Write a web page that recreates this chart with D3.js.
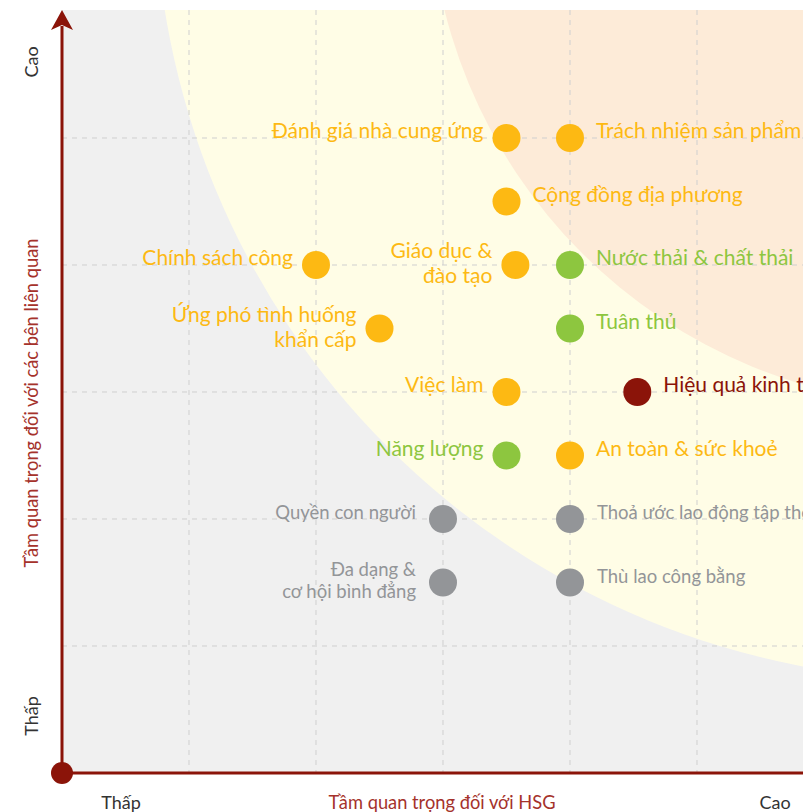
<!DOCTYPE html>
<html>
<head>
<meta charset="utf-8">
<script src="https://cdn.jsdelivr.net/npm/d3@7"></script>
<style>
  body { margin: 0; background: #fff; }
  svg { display: block; font-family: "Lato", "Noto Sans", sans-serif; }
</style>
</head>
<body>
<div id="chart"></div>
<script>
// topics on the materiality matrix
const topics = [
    "Đánh giá nhà cung ứng", "Trách nhiệm sản phẩm", "Cộng đồng địa phương",
    "Chính sách công", "Giáo dục &\nđào tạo", "Nước thải & chất thải",
    "Ứng phó tình huống\nkhẩn cấp", "Tuân thủ", "Việc làm", "Hiệu quả kinh tế",
    "Năng lượng", "An toàn & sức khoẻ", "Quyền con người",
    "Thoả ước lao động tập thể", "Đa dạng &\ncơ hội bình đẳng", "Thù lao công bằng"
];
// importance to HSG (x) and to stakeholders (y)
const hsgValues = [3.5, 4, 3.5, 2, 3.57, 4, 2.5, 4, 3.5, 4.53, 3.5, 4, 3, 4, 3, 4];
const stakeholderValues = [5, 5, 4.5, 4, 4, 4, 3.5, 3.5, 3, 3, 2.5, 2.5, 2, 2, 1.5, 1.5];
const groups = ["social", "social", "social", "social", "social", "env",
    "social", "env", "social", "econ", "env", "social", "minor",
    "minor", "minor", "minor"];
const labelSide = ["left", "right", "right", "left", "left", "right",
    "left", "right", "left", "right", "left", "right", "left",
    "right", "left", "right"];
const gridTicks = [1, 2, 3, 4, 5];

const colors = { social: "#fdb913", env: "#8dc63f", econ: "#8b1409", minor: "#939598" };
const axisRed = "#8b1409";

function initMatrix() {
    const width = 803, height = 812;
    const x0 = 62, y0 = 773, top = 10;

    const svg = d3.select("#chart")
        .append("svg")
        .attr("width", width)
        .attr("height", height);

    const x = d3.scaleLinear().domain([0, 6]).range([x0, x0 + 6 * 127]);
    const y = d3.scaleLinear().domain([0, 6]).range([y0, y0 - 6 * 127]);

    // plot area clip
    svg.append("clipPath").attr("id", "plotClip")
        .append("rect")
        .attr("x", x0).attr("y", top)
        .attr("width", width - x0).attr("height", y0 - top);

    const bg = svg.append("g").attr("clip-path", "url(#plotClip)");
    bg.append("rect")
        .attr("x", x0).attr("y", top)
        .attr("width", width - x0).attr("height", y0 - top)
        .attr("fill", "#f0f0f0");

    // priority zones, centred beyond the top right corner
    const cx = x(7), cy = y(7);
    bg.append("circle")
        .attr("cx", cx).attr("cy", cy)
        .attr("r", x(6.27) - x(0))
        .attr("fill", "#fffde6");
    bg.append("circle")
        .attr("cx", cx).attr("cy", cy)
        .attr("r", x(4.11) - x(0))
        .attr("fill", "#fdebd8");

    // dashed grid
    bg.selectAll(".vgrid")
        .data(gridTicks)
        .enter()
        .append("line")
        .attr("x1", d => x(d)).attr("x2", d => x(d))
        .attr("y1", top).attr("y2", y0)
        .attr("stroke", "#cfcfcf")
        .attr("stroke-dasharray", "5,5");
    bg.selectAll(".hgrid")
        .data(gridTicks)
        .enter()
        .append("line")
        .attr("y1", d => y(d)).attr("y2", d => y(d))
        .attr("x1", x0).attr("x2", width)
        .attr("stroke", "#cfcfcf")
        .attr("stroke-dasharray", "5,5");

    // axes
    svg.append("line")
        .attr("x1", x0).attr("y1", y0)
        .attr("x2", width).attr("y2", y0)
        .attr("stroke", axisRed).attr("stroke-width", 3);
    svg.append("line")
        .attr("x1", x0).attr("y1", y0)
        .attr("x2", x0).attr("y2", top + 16)
        .attr("stroke", axisRed).attr("stroke-width", 3);
    svg.append("path")
        .attr("d", `M${x0},${top} L${x0 + 11},${top + 20} L${x0},${top + 15} L${x0 - 11},${top + 20} Z`)
        .attr("fill", axisRed);
    svg.append("circle")
        .attr("cx", x0).attr("cy", y0).attr("r", 11)
        .attr("fill", axisRed);

    // axis texts
    svg.append("text")
        .attr("transform", `translate(38,62) rotate(-90)`)
        .attr("text-anchor", "middle")
        .attr("fill", "#333")
        .style("font-size", "18px")
        .text("Cao");
    svg.append("text")
        .attr("transform", `translate(38,716) rotate(-90)`)
        .attr("text-anchor", "middle")
        .attr("fill", "#333")
        .style("font-size", "18px")
        .text("Thấp");
    svg.append("text")
        .attr("transform", `translate(38,403) rotate(-90)`)
        .attr("text-anchor", "middle")
        .attr("fill", "#a5322b")
        .style("font-size", "18.3px")
        .text("Tầm quan trọng đối với các bên liên quan");
    svg.append("text")
        .attr("x", 121).attr("y", 809)
        .attr("text-anchor", "middle")
        .attr("fill", "#333")
        .style("font-size", "18px")
        .text("Thấp");
    svg.append("text")
        .attr("x", 442).attr("y", 809)
        .attr("text-anchor", "middle")
        .attr("fill", "#a5322b")
        .style("font-size", "18.3px")
        .text("Tầm quan trọng đối với HSG");
    svg.append("text")
        .attr("x", 775).attr("y", 809)
        .attr("text-anchor", "middle")
        .attr("fill", "#333")
        .style("font-size", "18px")
        .text("Cao");

    // topics
    const data = topics.map((t, i) => ({
        name: t, hsg: hsgValues[i], sh: stakeholderValues[i],
        group: groups[i], side: labelSide[i]
    }));

    const item = svg.selectAll(".topic")
        .data(data)
        .enter()
        .append("g")
        .attr("class", "topic");

    item.append("circle")
        .attr("cx", d => x(d.hsg))
        .attr("cy", d => y(d.sh))
        .attr("r", 14)
        .attr("fill", d => colors[d.group]);

    item.each(function (d) {
        const lines = d.name.split("\n");
        const minor = d.group === "minor";
        const lh = minor ? 22 : 25;
        const left = d.side === "left";
        const tx = x(d.hsg) + (left ? (minor ? -27 : -23) : (minor ? 27 : 26));
        const firstY = lines.length > 1 ? y(d.sh) - 7 : y(d.sh) + 0;
        const txt = d3.select(this).append("text")
            .attr("text-anchor", left ? "end" : "start")
            .attr("fill", colors[d.group])
            .style("font-size", minor ? "18.5px" : "21px");
        lines.forEach((l, j) => {
            txt.append("tspan")
                .attr("x", tx)
                .attr("y", firstY + j * lh)
                .text(l);
        });
    });
}
window.onload = initMatrix;
</script>
</body>
</html>
